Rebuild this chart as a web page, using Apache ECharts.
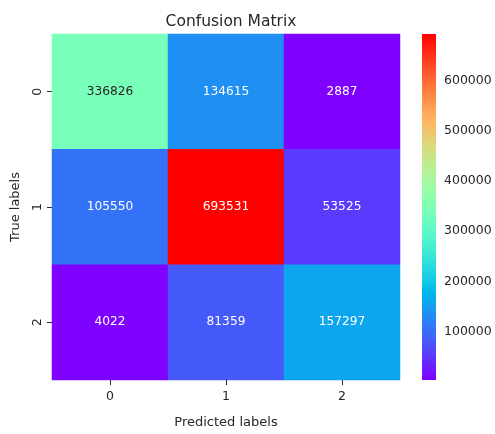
<!DOCTYPE html>
<html>
<head>
<meta charset="utf-8">
<script src="https://cdn.jsdelivr.net/npm/echarts@6/dist/echarts.min.js"></script>
<style>
  html, body { margin: 0; padding: 0; background: #fff; }
  #chart { width: 495px; height: 434px; }
</style>
</head>
<body>
<div id="chart"></div>
<script>
// Confusion matrix counts: rows = true label, columns = predicted label
const predictedLabels = ['0', '1', '2'];
const trueLabels = ['0', '1', '2'];
const row0 = [336826, 134615, 2887];
const row1 = [105550, 693531, 53525];
const row2 = [4022, 81359, 157297];
const matrix = [row0, row1, row2];
const colorbarTicks = [100000, 200000, 300000, 400000, 500000, 600000];

const FONT = 'DejaVu Sans';
const INK = '#262626';

// matplotlib "rainbow" colormap (gnuplot 33,13,10)
function rainbow(t) {
  const r = Math.min(1, Math.abs(2 * t - 0.5));
  const g = Math.sin(Math.PI * t);
  const b = Math.cos(Math.PI * t / 2);
  return [r, g, b].map(v => Math.round(Math.max(0, Math.min(1, v)) * 255));
}
function toHex(c) { return '#' + c.map(v => v.toString(16).padStart(2, '0')).join(''); }
const N_STOPS = 64;
const rampColors = [];
for (let i = 0; i <= N_STOPS; i++) rampColors.push(toHex(rainbow(i / N_STOPS)));

const flat = matrix.flat();
const vmin = Math.min(...flat);
const vmax = Math.max(...flat);

// annotation text colour chosen from the cell's luminance, as seaborn does
function luminance(c) {
  const lin = c.map(v => { v /= 255; return v <= 0.03928 ? v / 12.92 : Math.pow((v + 0.055) / 1.055, 2.4); });
  return 0.2126 * lin[0] + 0.7152 * lin[1] + 0.0722 * lin[2];
}

const cells = [];
matrix.forEach((row, yi) => row.forEach((v, xi) => {
  const col = rainbow((v - vmin) / (vmax - vmin));
  cells.push({
    value: [xi, yi, v],
    label: { color: luminance(col) > 0.408 ? INK : '#ffffff' }
  });
}));

const gradientStops = rampColors.map((c, i) => ({ offset: i / N_STOPS, color: c }));

const chart = echarts.init(document.getElementById('chart'), null, { renderer: 'canvas' });
chart.setOption({
  animation: false,
  backgroundColor: '#ffffff',
  textStyle: { fontFamily: FONT },
  title: {
    text: 'Confusion Matrix',
    left: 226,
    textAlign: 'center',
    top: 9,
    textStyle: { fontFamily: FONT, fontSize: 15.5, fontWeight: 'normal', color: INK }
  },
  grid: [
    { left: 52, top: 34, width: 348, height: 346 },
    { left: 422, top: 34, width: 14, height: 346 }
  ],
  xAxis: [
    {
      gridIndex: 0,
      type: 'category',
      data: predictedLabels,
      name: 'Predicted labels',
      nameLocation: 'middle',
      nameGap: 36,
      nameTextStyle: { fontFamily: FONT, fontSize: 13, color: INK },
      axisLine: { show: false },
      axisTick: { show: true, alignWithLabel: true, length: 5, lineStyle: { color: INK } },
      axisLabel: { fontFamily: FONT, fontSize: 12.5, color: INK, margin: 10 },
      splitLine: { show: false }
    },
    {
      gridIndex: 1,
      type: 'value',
      min: 0,
      max: 1,
      show: false
    }
  ],
  yAxis: [
    {
      gridIndex: 0,
      type: 'category',
      data: trueLabels,
      inverse: true,
      name: 'True labels',
      nameLocation: 'middle',
      nameGap: 30,
      nameTextStyle: { fontFamily: FONT, fontSize: 13, color: INK },
      axisLine: { show: false },
      axisTick: { show: true, alignWithLabel: true, length: 5, lineStyle: { color: INK } },
      axisLabel: { fontFamily: FONT, fontSize: 12.5, color: INK, rotate: 90, margin: 8 },
      splitLine: { show: false }
    },
    {
      gridIndex: 1,
      type: 'value',
      position: 'right',
      min: vmin,
      max: vmax,
      axisLine: { show: false },
      axisTick: { show: true, length: 5, customValues: colorbarTicks, lineStyle: { color: INK } },
      axisLabel: {
        fontFamily: FONT, fontSize: 12.5, color: INK, margin: 8,
        customValues: colorbarTicks,
        formatter: v => String(v)
      },
      splitLine: { show: false }
    }
  ],
  visualMap: {
    show: false,
    type: 'continuous',
    seriesIndex: 0,
    dimension: 2,
    min: vmin,
    max: vmax,
    inRange: { color: rampColors }
  },
  series: [
    {
      type: 'heatmap',
      xAxisIndex: 0,
      yAxisIndex: 0,
      data: cells,
      label: {
        show: true,
        fontFamily: FONT,
        fontSize: 12.2,
        formatter: p => String(p.value[2])
      },
      emphasis: { disabled: true }
    },
    {
      // colour bar
      type: 'custom',
      xAxisIndex: 1,
      yAxisIndex: 1,
      data: [[0, vmin, vmax]],
      silent: true,
      renderItem: function (params, api) {
        const lo = api.coord([0, api.value(1)]);
        const hi = api.coord([1, api.value(2)]);
        return {
          type: 'rect',
          shape: { x: lo[0], y: hi[1], width: hi[0] - lo[0], height: lo[1] - hi[1] },
          style: {
            fill: new echarts.graphic.LinearGradient(0, 1, 0, 0, gradientStops)
          }
        };
      }
    }
  ]
});
</script>
</body>
</html>
